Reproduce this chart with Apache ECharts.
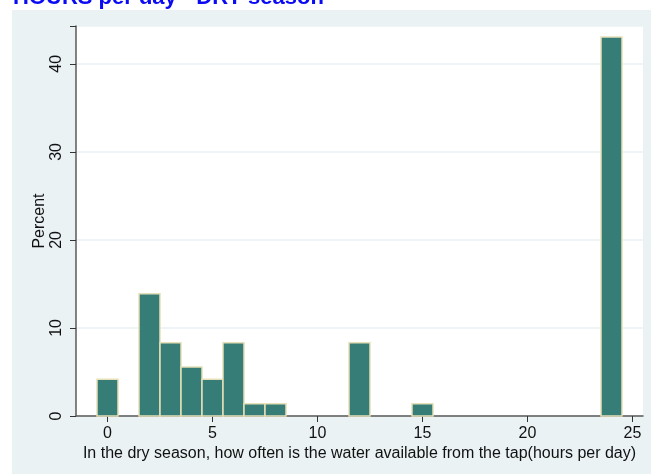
<!DOCTYPE html>
<html>
<head>
<meta charset="utf-8">
<script src="https://cdn.jsdelivr.net/npm/echarts@6/dist/echarts.min.js"></script>
<style>
html,body{margin:0;padding:0;background:#ffffff;}
#chart{width:651px;height:474px;}
</style>
</head>
<body>
<div id="chart"></div>
<script>
var titleText = 'HOURS per day - DRY season';
var xAxisTitle = 'In the dry season, how often is the water available from the tap(hours per day)';
var yAxisTitle = 'Percent';
var hours = [0, 2, 3, 4, 5, 6, 7, 8, 12, 15, 24];
var percent = [4.17, 13.89, 8.33, 5.56, 4.17, 8.33, 1.39, 1.39, 8.33, 1.39, 43.06];
var xTicks = [0, 5, 10, 15, 20, 25];
var yTicks = [0, 10, 20, 30, 40];
var binWidth = 1;

var chart = echarts.init(document.getElementById('chart'), null, {renderer: 'canvas'});
var data = hours.map(function (h, i) { return [h, percent[i]]; });
var FONT = '"Liberation Sans", Arial, sans-serif';

chart.setOption({
  animation: false,
  backgroundColor: '#ffffff',
  graphic: [
    {type: 'rect', shape: {x: 12, y: 10, width: 700, height: 500}, style: {fill: '#eaf2f3'}, z: -10, silent: true},
    {type: 'text', x: 13, y: 9, z: 100, style: {text: titleText, fill: '#0a0af5', font: 'bold 22px "Liberation Sans", Arial, sans-serif', verticalAlign: 'bottom', align: 'left'}}
  ],
  grid: {left: 76, right: 8, top: 26, bottom: 58, show: true, backgroundColor: '#ffffff', borderWidth: 0},
  xAxis: {
    type: 'value', min: -1.5, max: 25.5,
    name: xAxisTitle, nameLocation: 'middle', nameGap: 30, nameMoveOverlap: false,
    nameTextStyle: {fontSize: 16, color: '#111', fontFamily: FONT},
    axisLine: {show: true, onZero: false, lineStyle: {color: '#5a5a5a', width: 1.5}},
    axisTick: {show: true, length: 6, customValues: xTicks, lineStyle: {color: '#333', width: 1}},
    axisLabel: {customValues: xTicks, fontSize: 16, color: '#111', margin: 10, fontFamily: FONT},
    splitLine: {show: false}
  },
  yAxis: {
    type: 'value', min: 0, max: 44.3, interval: 10,
    name: yAxisTitle, nameLocation: 'middle', nameGap: 28, nameRotate: 90, nameMoveOverlap: false,
    nameTextStyle: {fontSize: 16, color: '#111', fontFamily: FONT},
    axisLine: {show: true, onZero: false, lineStyle: {color: '#5a5a5a', width: 1.5}},
    axisTick: {show: true, length: 6, lineStyle: {color: '#333', width: 1}},
    axisLabel: {rotate: 90, fontSize: 16, color: '#111', margin: 11, fontFamily: FONT,
      formatter: function (v) { return yTicks.indexOf(v) >= 0 ? String(v) : ''; }},
    splitLine: {show: true, lineStyle: {color: '#eaf2f3', width: 1.5}}
  },
  series: [{
    type: 'custom',
    data: data,
    encode: {x: 0, y: 1},
    renderItem: function (params, api) {
      var x = api.value(0), y = api.value(1);
      var p1 = api.coord([x - binWidth / 2, y]);
      var p2 = api.coord([x + binWidth / 2, 0]);
      return {
        type: 'rect',
        shape: {x: p1[0], y: p1[1], width: p2[0] - p1[0], height: p2[1] - p1[1]},
        style: {fill: '#377d77', stroke: '#e6e0b8', lineWidth: 1.5}
      };
    }
  }]
});
</script>
</body>
</html>
